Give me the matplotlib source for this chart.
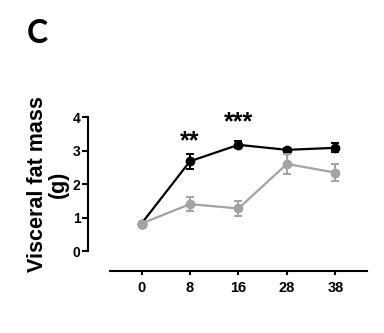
import numpy as np
import matplotlib
matplotlib.use("Agg")
import matplotlib.pyplot as plt

plt.rcParams['font.family'] = ['Liberation Sans', 'DejaVu Sans']

# weeks on diet and visceral fat mass (g), mean ± SEM
weeks = ['0', '8', '16', '28', '38']
group_a_mean = [0.82, 2.68, 3.17, 3.02, 3.08]
group_a_sem = [0.04, 0.22, 0.10, 0.06, 0.13]
group_b_mean = [0.82, 1.40, 1.27, 2.60, 2.34]
group_b_sem = [0.04, 0.22, 0.21, 0.29, 0.25]
stars = ['', '**', '***', '', '']
star_y = [0, 3.07, 3.62, 0, 0]

x = np.arange(len(weeks))

fig = plt.figure(figsize=(3.84, 3.33), dpi=100)
ax = fig.add_axes([0.2865, 0.2462, 0.669, 0.4024])

gray = '#a3a3a3'
ax.errorbar(x, group_a_mean, yerr=group_a_sem, color='black', marker='o',
            markersize=6, linewidth=1.6, elinewidth=1.4, capsize=3, capthick=1.4,
            clip_on=False, zorder=3)
ax.errorbar(x, group_b_mean, yerr=group_b_sem, color=gray, marker='o',
            markersize=6, linewidth=1.6, elinewidth=1.4, capsize=3, capthick=1.4,
            clip_on=False, zorder=4)

# significance stars, baseline-anchored
for xi, s, sy in zip(x, stars, star_y):
    if s:
        ax.text(xi, sy, s, ha='center', va='baseline', fontsize=18,
                fontweight='bold', clip_on=False)

ax.set_xlim(-0.65, 4.65)
ax.set_ylim(0, 4)
ax.set_yticks([0, 1, 2, 3, 4])
ax.set_xticks(x)
ax.set_xticklabels(weeks)

for side in ['top', 'right']:
    ax.spines[side].set_visible(False)
ax.spines['left'].set_position(('outward', 15.8))
ax.spines['bottom'].set_position(('outward', 14.2))
ax.spines['left'].set_bounds(0, 4)
for side in ['left', 'bottom']:
    ax.spines[side].set_linewidth(1.5)

ax.tick_params(axis='y', length=4, width=1.5, labelsize=10, pad=1.5)
ax.tick_params(axis='x', length=3, width=1.5, labelsize=10.5, pad=4.5)
for lab in ax.get_xticklabels() + ax.get_yticklabels():
    lab.set_fontweight('bold')

ax.set_ylabel('Visceral fat mass\n(g)', fontsize=15.5, fontweight='bold',
              labelpad=3, linespacing=1.0)

fig.text(0.07, 0.899, 'C', fontsize=23, fontweight='bold',
         family=['Lato', 'DejaVu Sans'], ha='left', va='center')

fig.savefig('out.png', dpi=100)
